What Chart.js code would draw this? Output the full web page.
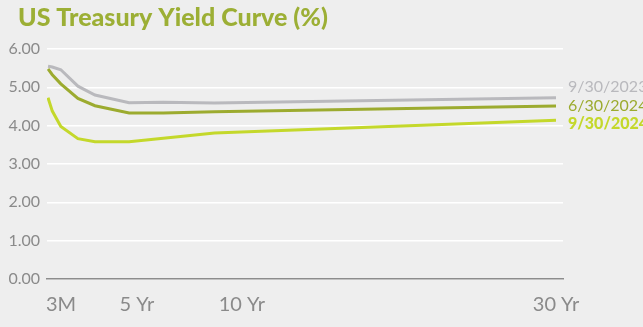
<!DOCTYPE html>
<html>
<head>
<meta charset="utf-8">
<script src="https://cdn.jsdelivr.net/npm/chart.js@4/dist/chart.umd.min.js"></script>
<style>
  html, body { margin: 0; padding: 0; background: #eeeeee; }
  #wrap { width: 643px; height: 327px; position: relative; }
</style>
</head>
<body>
<div id="wrap"><canvas id="curve"></canvas></div>
<script>
// maturities in years
var maturities = [0.25, 0.5, 1, 2, 3, 5, 7, 10, 30];

// yields (%)
var yields_2023_09 = [5.55, 5.53, 5.46, 5.03, 4.80, 4.60, 4.61, 4.59, 4.73];
var yields_2024_06 = [5.48, 5.33, 5.09, 4.71, 4.52, 4.33, 4.33, 4.36, 4.51];
var yields_2024_09 = [4.73, 4.38, 3.98, 3.66, 3.58, 3.58, 3.67, 3.81, 4.14];

var series_names = ['9/30/2023', '6/30/2024', '9/30/2024'];

// x axis labels and where they sit (years)
var x_tick_labels = ['3M', '5 Yr', '10 Yr', '30 Yr'];
var x_tick_values = [1.01, 5.46, 11.6, 30];

var font_family = 'Lato, "Open Sans", sans-serif';
var colors = ['#b9b9bd', '#9cab2f', '#c4d82b'];

function points(ys) {
  return maturities.map(function(m, i) { return { x: m, y: ys[i] }; });
}

// title and series names drawn on the canvas
var textPlugin = {
  id: 'curveText',
  afterDraw: function(chart) {
    var ctx = chart.ctx;
    var area = chart.chartArea;
    var y = chart.scales.y;
    ctx.save();
    ctx.textBaseline = 'middle';
    ctx.textAlign = 'left';
    ctx.fillStyle = '#9caf35';
    ctx.font = '900 25px ' + font_family;
    ctx.fillText('US Treasury Yield Curve (%)', 18, 18);

    var label_y = [5.0, 4.53, 4.04];
    for (var i = 0; i < series_names.length; i++) {
      ctx.fillStyle = colors[i];
      ctx.font = (i == 2 ? '900 ' : '') + '16px ' + font_family;
      ctx.fillText(series_names[i], area.right + 5, y.getPixelForValue(label_y[i]));
    }
    ctx.restore();
  }
};

window.addEventListener('load', function() {
  var ctx = document.getElementById('curve').getContext('2d');

  var data = {
    datasets: [
      { label: series_names[0], data: points(yields_2023_09), borderColor: colors[0] },
      { label: series_names[1], data: points(yields_2024_06), borderColor: colors[1] },
      { label: series_names[2], data: points(yields_2024_09), borderColor: colors[2] }
    ]
  };

  new Chart(ctx, {
    type: 'line',
    data: data,
    plugins: [textPlugin],
    options: {
      responsive: true,
      maintainAspectRatio: false,
      animation: false,
      layout: { padding: { top: 49, right: 80, bottom: 10, left: 0 } },
      elements: {
        line: { borderWidth: 3, tension: 0, borderCapStyle: 'butt' },
        point: { radius: 0 }
      },
      plugins: {
        legend: { display: false },
        tooltip: { enabled: false }
      },
      scales: {
        x: {
          type: 'linear',
          min: 0.19,
          max: 30.41,
          afterBuildTicks: function(scale) {
            scale.ticks = x_tick_values.map(function(v) { return { value: v }; });
          },
          afterFit: function(scale) { scale.height = 38; },
          ticks: {
            autoSkip: false,
            maxRotation: 0,
            padding: 6,
            color: '#8a8a8a',
            font: { family: font_family, size: 20 },
            callback: function(value, index) { return x_tick_labels[index]; }
          },
          grid: { display: false },
          border: { display: true, color: '#8c8c8c', width: 1.5 }
        },
        y: {
          min: 0,
          max: 6,
          afterFit: function(scale) { scale.width = 47; },
          ticks: {
            stepSize: 1,
            padding: 7,
            color: '#8a8a8a',
            font: { family: font_family, size: 16 },
            callback: function(value) { return value.toFixed(2); }
          },
          grid: { color: '#ffffff', lineWidth: 1.5, drawTicks: false },
          border: { display: false }
        }
      }
    }
  });
});
</script>
</body>
</html>
